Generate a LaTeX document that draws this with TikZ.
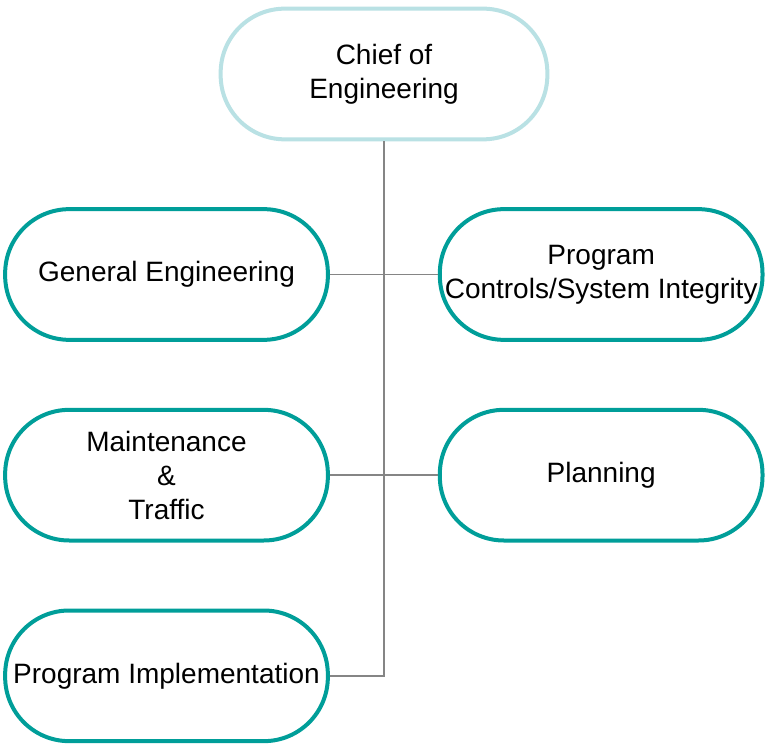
\documentclass[tikz,border=0pt]{standalone}
\usepackage{fontspec}
\setmainfont{Liberation Sans}
\usetikzlibrary{positioning}
\definecolor{unitteal}{HTML}{009E99}
\definecolor{chiefteal}{HTML}{B9E1E4}
\definecolor{linkgray}{HTML}{858585}

\begin{document}
\begin{tikzpicture}[x=0.75pt,y=-0.75pt,node distance=49.5pt and 81pt,
        unit node/.style={draw=unitteal,line width=3pt,fill=white,rounded corners=48pt,
          minimum width=242pt,minimum height=98pt,align=center,inner sep=0pt,
          font=\fontsize{21}{25.5}\selectfont},
        chief node/.style={unit node,draw=chiefteal,minimum width=245pt},
        link/.style={draw=linkgray,line width=1.1pt}]
        \useasboundingbox (0,0) rectangle (767,748);

        \node[unit node] (ge) at (166.5,274.5) {General Engineering};
        \node[unit node] (pc) [right=of ge] {Program\\Controls/System Integrity};
        \node[unit node] (mt) [below=of ge] {Maintenance\\\&\\Traffic};
        \node[unit node] (pl) [right=of mt] {Planning};
        \node[unit node] (pi) [below=of mt] {Program Implementation};
        \node[chief node] (chief) at (384,74) {Chief of\\Engineering};

        % connectors
        \path[link] (pi.east) -| (chief.south);
        \path[link] (ge.east) -- (pc.west);
        \path[link] (mt.east) -- (pl.west);
      \end{tikzpicture}
\end{document}
